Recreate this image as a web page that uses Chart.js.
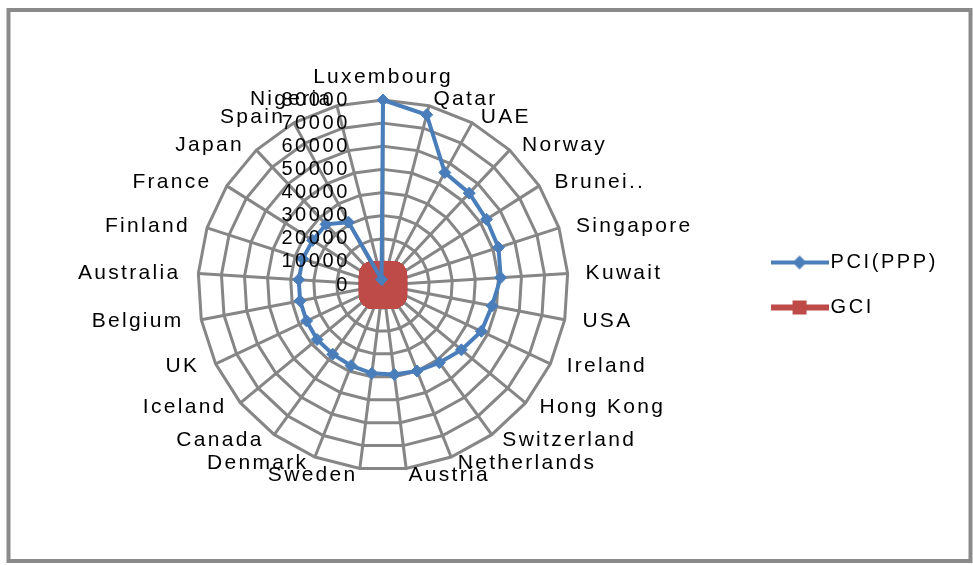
<!DOCTYPE html>
<html>
<head>
<meta charset="utf-8">
<title>PCI(PPP) / GCI</title>
<script src="https://cdn.jsdelivr.net/npm/chart.js@4.4.1/dist/chart.umd.min.js"></script>
<style>
  html, body { margin: 0; padding: 0; background: #fff; }
</style>
</head>
<body>
<canvas id="radar" width="973" height="565"></canvas>
<script>
  // data
  const countries = ['Luxembourg', 'Qatar', 'UAE', 'Norway', 'Brunei..', 'Singapore', 'Kuwait', 'USA',
    'Ireland', 'Hong Kong', 'Switzerland', 'Netherlands', 'Austria', 'Sweden', 'Denmark', 'Canada',
    'Iceland', 'UK', 'Belgium', 'Australia', 'Finland', 'France', 'Japan', 'Spain', 'Nigeria'];
  const pciValues = [80000, 76000, 55500, 54500, 53000, 52500, 51000, 48000,
    47000, 44000, 41500, 40000, 39000, 38500, 37500, 37000,
    37000, 36500, 36500, 36500, 36500, 36000, 36000, 31000, 2500];
  const gciValues = [5.03, 5.24, 5.07, 5.27, 4.78, 5.67, 4.62, 5.43,
    4.77, 5.36, 5.74, 5.41, 5.14, 5.61, 5.40, 5.33,
    4.68, 5.39, 5.20, 5.11, 5.47, 5.14, 5.40, 4.54, 3.38];
  const tickValues = [0, 10000, 20000, 30000, 40000, 50000, 60000, 70000, 80000];

  const blue = '#4a7ebb';
  const red = '#be4b48';
  const gridGrey = '#868686';
  const fontName = '"Liberation Sans", Arial, sans-serif';
  const spacing = '2.6px';

  // little line+marker pictures for the legend, like excel draws them
  function legendIcon(color, kind) {
    const c = document.createElement('canvas');
    c.width = 58; c.height = 18;
    const g = c.getContext('2d');
    g.fillStyle = color;
    if (kind == 'diamond') {
      g.fillRect(0, 7, 58, 4);
      g.beginPath();
      g.moveTo(29, 2); g.lineTo(36, 9); g.lineTo(29, 16); g.lineTo(22, 9);
      g.closePath();
      g.fill();
    } else {
      g.fillRect(0, 6, 58, 6);
      g.fillRect(22, 2, 14, 14);
    }
    return c;
  }
  const icons = [legendIcon(blue, 'diamond'), legendIcon(red, 'square')];

  const frameAndSpacing = {
    id: 'frameAndSpacing',
    beforeLayout(chart) {
      chart.ctx.letterSpacing = spacing;
    },
    beforeDraw(chart) {
      const ctx = chart.ctx;
      ctx.letterSpacing = spacing;
      ctx.save();
      ctx.strokeStyle = '#8a8a8a';
      ctx.lineWidth = 4;
      ctx.strokeRect(8.5, 10, 962, 551);
      ctx.restore();
    }
  };

  // value labels sit left of the vertical axis, right aligned
  const tickLabels = {
    id: 'tickLabels',
    afterDatasetsDraw(chart) {
      const r = chart.scales.r;
      const ctx = chart.ctx;
      ctx.save();
      ctx.font = '20px ' + fontName;
      ctx.fillStyle = '#000';
      ctx.textAlign = 'right';
      ctx.textBaseline = 'middle';
      tickValues.forEach(v => {
        ctx.fillText(String(v), r.xCenter - 33, r.yCenter - r.getDistanceFromCenterForValue(v));
      });
      ctx.restore();
    }
  };

  // category names placed the excel way: just outside the ring, nudged down on the upper half
  const countryLabels = {
    id: 'countryLabels',
    afterDraw(chart) {
      const r = chart.scales.r;
      const ctx = chart.ctx;
      ctx.save();
      ctx.font = '21px ' + fontName;
      ctx.letterSpacing = '2.3px';
      ctx.fillStyle = '#000';
      ctx.textBaseline = 'middle';
      countries.forEach((name, i) => {
        const a = r.getIndexAngle(i);
        const deg = Math.round(a * 180 / Math.PI) % 360;
        const p = r.getPointPosition(i, r.drawingArea + 18);
        let dy = 11.5 * Math.cos(a);
        if (deg === 0 || deg === 180) {
          ctx.textAlign = 'center';
          dy = deg === 0 ? -5 : 5;
        } else {
          ctx.textAlign = deg < 180 ? 'left' : 'right';
        }
        ctx.fillText(name, p.x, p.y + dy);
      });
      ctx.restore();
    }
  };

  new Chart(document.getElementById('radar'), {
    type: 'radar',
    data: {
      labels: countries,
      datasets: [
        {
          label: 'PCI(PPP)',
          data: pciValues,
          borderColor: blue,
          backgroundColor: blue,
          borderWidth: 4,
          fill: false,
          pointStyle: 'rectRot',
          pointRadius: 6,
          pointBackgroundColor: blue,
          pointBorderColor: blue,
          pointBorderWidth: 1
        },
        {
          label: 'GCI',
          data: gciValues,
          borderColor: red,
          backgroundColor: red,
          borderWidth: 4,
          fill: false,
          pointStyle: 'rectRounded',
          pointRadius: 28,
          pointBackgroundColor: red,
          pointBorderColor: red,
          pointBorderWidth: 0
        }
      ]
    },
    options: {
      responsive: false,
      animation: false,
      events: [],
      devicePixelRatio: 1,
      layout: { padding: { left: 13, right: 25, top: 100, bottom: 95 } },
      scales: {
        r: {
          min: 0,
          max: 80000,
          beginAtZero: true,
          ticks: { display: false, stepSize: 10000 },
          grid: { color: gridGrey, lineWidth: 3 },
          angleLines: { color: gridGrey, lineWidth: 3 },
          pointLabels: { display: false }
        }
      },
      plugins: {
        tooltip: { enabled: false },
        legend: {
          position: 'right',
          labels: {
            color: '#000',
            font: { family: fontName, size: 20 },
            usePointStyle: true,
            pointStyleWidth: 42,
            padding: 25,
            generateLabels(chart) {
              const items = Chart.defaults.plugins.legend.labels.generateLabels(chart);
              items.forEach((it, i) => { it.pointStyle = icons[i]; });
              return items;
            }
          }
        }
      }
    },
    plugins: [frameAndSpacing, tickLabels, countryLabels]
  });
</script>
</body>
</html>
